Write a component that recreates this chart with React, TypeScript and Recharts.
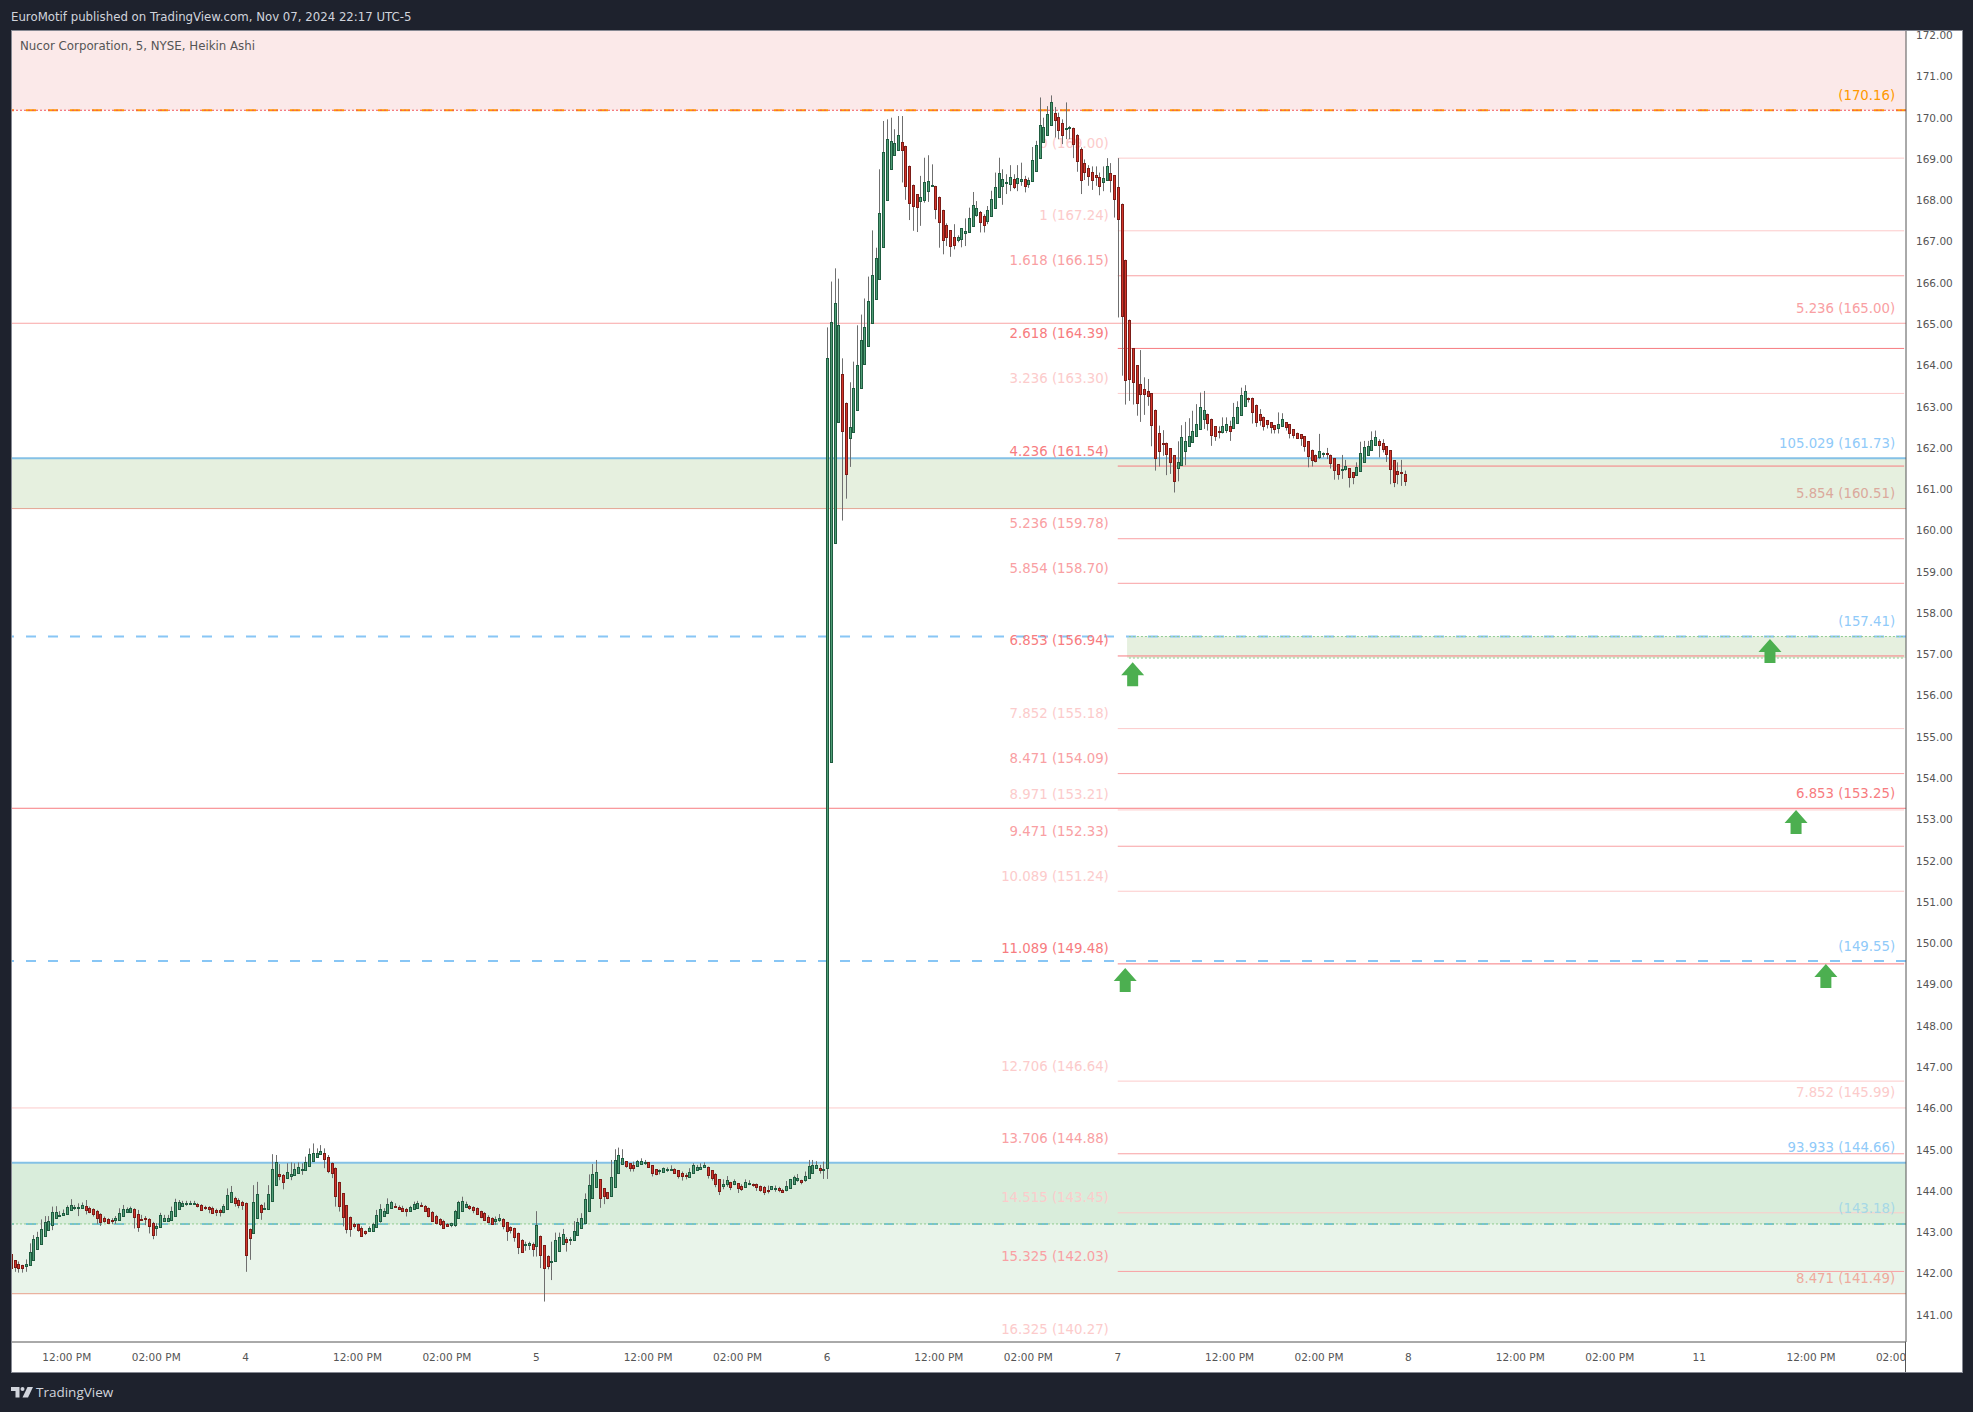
import React from 'react';
import {
  Bar,
  ComposedChart,
  ReferenceArea,
  ReferenceDot,
  ReferenceLine,
  XAxis,
  YAxis,
} from 'recharts';

// Heikin Ashi 5 minute candles
const opens = [
  142.45,142.30,142.21,142.19,142.15,142.17,142.31,142.57,142.69,142.87,143.05,143.14,143.31,143.38,143.39,
  143.41,143.51,143.57,143.57,143.55,143.61,143.56,143.53,143.49,143.41,143.32,143.30,143.28,143.26,143.28,
  143.35,143.46,143.48,143.53,143.43,143.30,143.32,143.29,143.21,143.07,143.10,143.24,143.26,143.28,143.36,
  143.55,143.62,143.66,143.66,143.67,143.67,143.64,143.59,143.58,143.56,143.52,143.51,143.46,143.52,143.70,
  143.82,143.77,143.70,143.68,143.06,142.95,143.33,143.63,143.53,143.53,143.72,144.11,144.39,144.36,144.28,
  144.35,144.36,144.41,144.49,144.50,144.58,144.70,144.81,144.86,144.89,144.81,144.65,144.53,144.19,143.92,
  143.63,143.34,143.19,143.17,143.09,143.00,142.99,143.02,143.11,143.23,143.37,143.44,143.55,143.62,143.59,
  143.57,143.54,143.49,143.53,143.57,143.64,143.62,143.56,143.47,143.37,143.29,143.26,143.18,143.16,143.16,
  143.31,143.50,143.59,143.61,143.59,143.56,143.49,143.45,143.36,143.32,143.26,143.26,143.29,143.22,143.10,
  143.07,142.95,142.79,142.67,142.65,142.70,142.63,142.88,142.66,142.40,142.27,142.27,142.53,142.68,142.81,
  142.79,142.77,142.90,143.07,143.19,143.48,143.80,144.08,144.26,144.04,143.95,143.86,144.08,144.40,144.62,
  144.70,144.65,144.61,144.57,144.62,144.66,144.67,144.60,144.50,144.47,144.45,144.49,144.51,144.50,144.48,
  144.41,144.36,144.33,144.40,144.49,144.52,144.54,144.57,144.48,144.38,144.26,144.11,144.14,144.19,144.13,
  144.16,144.11,144.07,144.14,144.15,144.14,144.11,144.07,144.01,144.01,144.04,144.04,144.01,143.99,144.03,
  144.14,144.24,144.25,144.24,144.28,144.43,144.53,144.54,144.51,144.52,154.35,159.69,162.60,163.76,163.08,
  162.21,162.36,162.89,163.42,164.00,164.46,164.99,165.58,166.07,166.85,167.99,168.75,169.08,169.20,169.40,
  169.30,168.82,168.36,168.12,167.95,167.99,168.20,168.33,168.33,168.07,167.75,167.39,167.25,167.10,167.00,
  167.04,167.17,167.19,167.36,167.60,167.69,167.59,167.48,167.61,167.80,168.05,168.33,168.41,168.39,168.49,
  168.40,168.44,168.49,168.39,168.45,168.69,168.99,169.39,169.56,169.80,170.09,170.00,169.84,169.69,169.72,
  169.72,169.55,169.23,168.88,168.77,168.67,168.58,168.55,168.43,168.47,168.65,168.58,168.29,167.90,166.54,
  165.09,164.39,163.98,163.52,163.40,163.35,163.30,162.91,162.33,162.11,162.11,161.97,161.80,161.49,161.56,
  161.90,162.02,162.14,162.28,162.43,162.69,162.81,162.69,162.50,162.38,162.35,162.43,162.50,162.45,162.57,
  162.77,163.01,163.20,163.20,163.03,162.81,162.74,162.65,162.60,162.53,162.48,162.53,162.60,162.55,162.43,
  162.35,162.31,162.26,162.14,161.94,161.82,161.75,161.84,161.85,161.82,161.73,161.58,161.46,161.46,161.49,
  161.39,161.31,161.41,161.63,161.80,161.92,162.04,162.14,162.09,162.02,161.92,161.68,161.41,161.39,161.36,
];
const highs = [
  142.45,142.30,142.27,142.19,142.32,142.71,142.91,142.99,143.29,143.37,143.37,143.60,143.61,143.49,143.53,
  143.63,143.78,143.64,143.68,143.70,143.76,143.60,143.56,143.52,143.44,143.36,143.32,143.32,143.37,143.56,
  143.64,143.58,143.60,143.56,143.52,143.40,143.37,143.32,143.23,143.20,143.45,143.40,143.40,143.60,143.79,
  143.76,143.74,143.74,143.74,143.74,143.69,143.66,143.62,143.61,143.60,143.55,143.55,143.66,144.04,144.10,
  143.84,143.80,143.74,143.70,143.07,144.12,144.20,143.66,143.70,144.12,144.87,144.85,144.63,144.39,144.65,
  144.67,144.65,144.67,144.65,144.81,145.01,145.13,145.01,145.09,145.01,144.85,144.67,144.55,144.20,143.92,
  143.64,143.36,143.21,143.19,143.12,143.02,143.12,143.21,143.52,143.66,143.56,143.80,143.74,143.68,143.63,
  143.62,143.57,143.62,143.72,143.74,143.70,143.64,143.58,143.49,143.40,143.32,143.28,143.20,143.21,143.52,
  143.74,143.84,143.72,143.64,143.61,143.58,143.50,143.47,143.39,143.34,143.36,143.42,143.32,143.23,143.12,
  143.09,142.97,142.81,142.75,142.75,142.73,143.49,142.90,142.67,142.42,142.75,142.97,142.97,143.06,142.86,
  142.86,143.25,143.32,143.44,143.92,144.38,144.63,144.73,144.26,144.04,143.95,144.73,144.99,145.03,144.99,
  144.70,144.65,144.69,144.73,144.77,144.73,144.67,144.60,144.50,144.50,144.55,144.55,144.60,144.53,144.48,
  144.45,144.41,144.53,144.65,144.61,144.65,144.67,144.57,144.48,144.41,144.26,144.26,144.34,144.20,144.26,
  144.16,144.14,144.26,144.24,144.16,144.16,144.11,144.10,144.11,144.09,144.11,144.08,144.03,144.22,144.27,
  144.35,144.39,144.25,144.45,144.73,144.73,144.70,144.61,144.69,164.90,166.01,166.33,166.08,164.15,163.08,
  163.57,164.07,164.95,165.21,165.60,166.13,167.25,166.83,168.73,169.90,169.94,169.98,169.70,170.02,170.02,
  169.30,168.82,168.36,168.12,168.57,169.01,169.07,168.85,168.33,168.07,167.75,167.42,167.25,167.40,167.13,
  167.30,167.54,167.80,168.18,167.96,167.72,167.64,167.84,168.21,168.65,169.01,168.73,168.61,168.83,168.61,
  168.83,168.89,168.57,168.53,169.27,169.42,170.47,169.98,170.26,170.52,170.24,170.10,169.94,170.35,169.78,
  169.74,169.58,169.26,168.97,168.83,168.80,168.80,168.65,168.80,169.00,168.88,168.58,169.00,167.90,166.54,
  165.09,164.39,163.98,164.35,163.69,163.65,163.30,162.91,162.52,162.41,162.11,161.97,161.80,162.14,162.53,
  162.61,162.70,162.88,163.04,163.32,163.36,162.81,162.69,162.50,162.50,162.72,162.72,162.64,163.07,163.11,
  163.44,163.50,163.20,163.20,163.03,162.92,162.74,162.65,162.60,162.53,162.84,162.82,162.60,162.55,162.43,
  162.35,162.31,162.26,162.14,161.94,161.82,162.32,161.87,161.98,161.82,161.73,161.58,161.81,161.69,161.49,
  161.39,161.63,162.13,162.15,162.15,162.38,162.40,162.19,162.19,162.02,161.92,161.68,161.63,161.69,161.43,
];
const lows = [
  141.90,142.02,142.00,142.00,142.02,142.17,142.31,142.57,142.69,142.87,143.03,143.03,143.31,143.37,143.39,
  143.41,143.51,143.52,143.37,143.55,143.41,143.44,143.36,143.18,143.13,143.21,143.18,143.18,143.18,143.28,
  143.35,143.45,143.47,143.07,142.99,143.28,143.15,142.95,142.81,142.89,143.10,143.23,143.23,143.28,143.36,
  143.55,143.62,143.62,143.64,143.64,143.58,143.50,143.52,143.44,143.42,143.37,143.36,143.44,143.52,143.70,
  143.60,143.56,143.52,142.02,142.31,142.95,143.33,143.28,143.52,143.53,143.72,144.11,144.24,144.02,144.28,
  144.24,144.36,144.41,144.37,144.50,144.58,144.70,144.81,144.86,144.53,144.41,144.29,143.60,143.48,143.12,
  142.95,142.87,143.07,142.99,142.87,142.91,142.99,143.02,143.11,143.21,143.37,143.44,143.55,143.57,143.52,
  143.47,143.36,143.49,143.53,143.57,143.60,143.48,143.34,143.23,143.17,143.13,143.07,143.12,143.10,143.11,
  143.31,143.50,143.58,143.52,143.44,143.40,143.32,143.28,143.20,143.16,143.16,143.23,143.05,142.77,142.95,
  142.75,142.45,142.49,142.53,142.55,142.39,142.39,142.11,141.30,142.08,141.82,142.27,142.53,142.68,142.51,
  142.67,142.77,142.90,143.07,143.19,143.48,143.80,144.08,143.57,143.66,143.78,143.86,144.08,144.40,144.62,
  144.54,144.45,144.45,144.57,144.62,144.61,144.54,144.33,144.36,144.38,144.44,144.44,144.47,144.40,144.28,
  144.23,144.26,144.33,144.40,144.49,144.49,144.54,144.28,144.23,144.07,143.88,144.02,144.08,144.00,144.12,
  143.93,143.98,144.07,144.12,144.08,143.98,143.96,143.88,143.92,144.00,143.96,143.95,143.94,143.97,144.03,
  144.14,144.20,144.14,144.20,144.28,144.43,144.53,144.40,144.27,144.27,154.35,159.69,162.60,160.22,160.75,
  161.52,162.36,162.89,163.42,164.00,164.46,164.99,165.58,166.07,166.85,167.99,168.75,169.08,169.20,168.41,
  167.99,167.50,167.24,167.21,167.36,167.92,167.94,168.32,167.52,166.83,166.67,166.87,166.61,166.79,166.96,
  166.84,166.87,167.19,167.36,167.58,167.20,167.20,167.40,167.61,167.80,168.05,167.87,168.13,168.20,168.25,
  168.20,168.33,168.17,168.28,168.45,168.69,168.99,169.39,169.56,169.80,169.50,169.46,169.34,169.46,169.46,
  169.00,168.67,168.13,168.47,168.33,168.23,168.33,168.10,168.20,168.47,168.17,167.56,165.14,163.73,163.03,
  163.12,163.03,162.76,162.61,162.78,163.00,162.02,161.43,161.53,161.79,161.32,161.35,160.90,161.17,161.56,
  161.56,162.02,162.14,162.28,162.43,162.44,162.40,162.03,162.15,162.21,162.33,162.34,162.15,162.45,162.57,
  162.77,163.01,163.08,162.57,162.49,162.52,162.40,162.45,162.33,162.33,162.33,162.53,162.40,162.21,162.21,
  162.20,162.03,161.89,161.51,161.53,161.63,161.71,161.75,161.71,161.48,161.21,161.21,161.23,161.43,161.02,
  161.10,161.31,161.41,161.63,161.80,161.92,162.04,161.75,161.87,161.64,161.10,161.03,161.10,161.06,161.06,
];
const closes = [
  142.12,142.12,142.12,142.12,142.21,142.49,142.81,142.86,143.06,143.22,143.26,143.46,143.46,143.40,143.44,
  143.58,143.63,143.59,143.59,143.63,143.52,143.46,143.40,143.33,143.21,143.24,143.20,143.27,143.32,143.44,
  143.53,143.53,143.57,143.33,143.12,143.29,143.29,143.11,142.91,143.12,143.39,143.32,143.33,143.49,143.71,
  143.71,143.69,143.68,143.69,143.69,143.61,143.52,143.57,143.52,143.45,143.48,143.46,143.61,143.87,143.95,
  143.71,143.65,143.62,142.41,142.85,143.70,143.90,143.45,143.56,143.90,144.50,144.67,144.35,144.18,144.43,
  144.39,144.50,144.55,144.50,144.69,144.87,144.89,144.91,144.94,144.74,144.47,144.40,143.86,143.62,143.34,
  143.05,143.05,143.14,143.03,142.90,142.95,143.07,143.18,143.40,143.53,143.49,143.67,143.70,143.59,143.53,
  143.49,143.48,143.58,143.66,143.68,143.63,143.49,143.36,143.26,143.21,143.16,143.09,143.13,143.20,143.49,
  143.70,143.74,143.66,143.55,143.52,143.42,143.34,143.29,143.23,143.18,143.31,143.32,143.13,143.01,143.03,
  142.85,142.61,142.51,142.69,142.71,142.58,143.15,142.41,142.10,142.15,142.28,142.78,142.86,142.93,142.73,
  142.81,143.00,143.22,143.32,143.78,144.12,144.38,144.45,143.79,143.84,143.81,144.31,144.74,144.84,144.77,
  144.57,144.52,144.54,144.70,144.70,144.67,144.54,144.40,144.37,144.48,144.54,144.50,144.52,144.41,144.33,
  144.33,144.33,144.45,144.60,144.57,144.57,144.60,144.37,144.28,144.13,143.96,144.15,144.24,144.08,144.21,
  144.03,144.03,144.19,144.17,144.13,144.07,144.01,143.96,144.00,144.09,144.05,143.99,143.96,144.09,144.26,
  144.31,144.29,144.20,144.33,144.58,144.62,144.60,144.49,144.52,164.15,165.02,165.50,164.95,162.38,161.36,
  162.48,163.42,163.98,164.59,164.90,165.55,166.16,166.57,167.66,169.16,169.47,169.42,169.36,169.57,169.20,
  168.33,167.92,167.84,167.80,168.05,168.43,168.45,168.34,167.77,167.46,167.02,167.09,166.87,166.91,167.08,
  167.30,167.23,167.54,167.86,167.78,167.45,167.38,167.74,168.02,168.31,168.63,168.49,168.42,168.55,168.30,
  168.53,168.50,168.33,168.48,168.95,169.31,169.80,169.76,170.06,170.35,169.93,169.68,169.54,169.72,169.75,
  169.34,168.93,168.47,168.67,168.57,168.47,168.52,168.33,168.53,168.82,168.47,167.99,167.51,165.18,163.63,
  163.66,163.56,163.05,163.27,163.29,163.24,162.52,161.74,161.89,162.08,161.85,161.63,161.16,161.63,162.24,
  162.14,162.26,162.40,162.57,162.96,162.91,162.60,162.31,162.26,162.35,162.50,162.57,162.38,162.72,162.96,
  163.26,163.37,163.19,162.86,162.62,162.67,162.53,162.55,162.48,162.43,162.57,162.69,162.48,162.33,162.28,
  162.24,162.21,162.02,161.77,161.70,161.67,161.90,161.85,161.83,161.63,161.44,161.33,161.47,161.53,161.27,
  161.27,161.51,161.85,162.00,162.02,162.16,162.24,162.04,161.94,161.82,161.46,161.15,161.33,161.38,161.20,
];

// Time axis: one slot per 5 minute bar, including the empty future ones
const slotCount = 509;
const lastSlot = slotCount - 1;
const timeTickSlots = [15, 39, 63, 93, 117, 141, 171, 195, 219, 249, 273, 297, 327, 351, 375, 405, 429, 453, 483, 507];
const timeTickLabels = [
  '12:00 PM', '02:00 PM', '4', '12:00 PM', '02:00 PM', '5', '12:00 PM', '02:00 PM', '6', '12:00 PM',
  '02:00 PM', '7', '12:00 PM', '02:00 PM', '8', '12:00 PM', '02:00 PM', '11', '12:00 PM', '02:00 PM',
];
const priceTicks = [
  141, 142, 143, 144, 145, 146, 147, 148, 149, 150, 151, 152, 153, 154, 155, 156,
  157, 158, 159, 160, 161, 162, 163, 164, 165, 166, 167, 168, 169, 170, 171, 172,
];

// Fibonacci extension levels drawn from Nov 7
const fibRatios = [
  '0', '1', '1.618', '2.618', '3.236', '4.236', '5.236', '5.854', '6.853', '7.852',
  '8.471', '8.971', '9.471', '10.089', '11.089', '12.706', '13.706', '14.515', '15.325', '16.325',
];
const fibPrices = [
  169.0, 167.24, 166.15, 164.39, 163.3, 161.54, 159.78, 158.7, 156.94, 155.18,
  154.09, 153.21, 152.33, 151.24, 149.48, 146.64, 144.88, 143.45, 142.03, 140.27,
];

// Labels at the right hand side
const sideLabels = [
  '(170.16)', '5.236 (165.00)', '105.029 (161.73)', '5.854 (160.51)', '(157.41)',
  '6.853 (153.25)', '(149.55)', '7.852 (145.99)', '93.933 (144.66)', '(143.18)', '8.471 (141.49)',
];
const sidePrices = [170.16, 165.0, 161.73, 160.51, 157.41, 153.25, 149.55, 145.99, 144.66, 143.18, 141.49];

const arrowSlots = [301, 299, 472, 479, 487];
const arrowPrices = [156.79, 149.38, 157.35, 153.21, 149.48];

const DOMAIN_TOP = 172.08;
const DOMAIN_BOTTOM = 140.32;
const FONT = '"DejaVu Sans", sans-serif';
const PALE = '#fccbcb';
const MID = '#f9a0a3';
const STRONG = '#f77c80';
const BLUE = '#88c6f5';
const TEAL = '#76c3d4';
const DOTTED_GREEN = '#8fcb8f';
const fibShades = [
  PALE, PALE, MID, STRONG, PALE, STRONG, MID, MID, STRONG, PALE,
  MID, PALE, MID, PALE, STRONG, PALE, MID, PALE, MID, PALE,
];
const sideShades = [
  '#ff9800', '#f9a0a3', '#90caf9', '#dba99c', '#90caf9', STRONG, '#90caf9', PALE, '#90caf9', '#a6d8e6', '#eeaa9c',
];

const chartData = Array.from({ length: slotCount }, (_, i) => ({
  slot: i,
  open: opens[i],
  high: highs[i],
  low: lows[i],
  close: closes[i],
}));

const candleRange = (d: any) => (d.high === undefined ? null : [d.low, d.high]);

// wick and body worked out from the pixel box recharts gives for [low, high]
const Candle = (props: any) => {
  const { x, y, width, height, payload } = props;
  if (!payload || payload.high === undefined) return null;
  const { open, high, low, close } = payload;
  const pxPerUnit = height / (high - low || 1);
  const cx = Math.round(x + width / 2);
  const up = close >= open;
  const top = Math.round(y + (high - Math.max(open, close)) * pxPerUnit) + 0.5;
  const bodyHeight = Math.max(Math.round(Math.abs(open - close) * pxPerUnit), 1);
  return (
    <g>
      <line x1={cx + 0.5} x2={cx + 0.5} y1={y} y2={y + height} stroke="#6f6f6f" strokeWidth={1} />
      <rect
        x={cx - 0.5}
        y={top}
        width={2}
        height={bodyHeight}
        fill={up ? '#4f9d75' : '#d2352b'}
        stroke={up ? '#1f5c40' : '#7b1c17'}
        strokeWidth={1}
      />
    </g>
  );
};

const levelText = (text: string, color: string) => (props: any) => (
  <text
    x={props.cx - 1.5}
    y={props.cy - 10.5}
    textAnchor="end"
    fontFamily={FONT}
    fontSize={13.3}
    fill={color}
  >
    {text}
  </text>
);

const UpArrow = (props: any) => {
  const { cx, cy } = props;
  return (
    <polygon
      points={`${cx},${cy} ${cx + 11.5},${cy + 13} ${cx + 5.5},${cy + 13} ${cx + 5.5},${cy + 24} ${cx - 5.5},${cy + 24} ${cx - 5.5},${cy + 13} ${cx - 11.5},${cy + 13}`}
      fill="#4caf50"
    />
  );
};

const TimeTick = (props: any) => {
  const { x, y, payload } = props;
  const label = timeTickLabels[timeTickSlots.indexOf(payload.value)];
  return (
    <text
      x={x}
      y={y + 17}
      textAnchor="middle"
      fontFamily={FONT}
      fontSize={10.5}
      fill="#555"
      clipPath="url(#timeAxisClip)"
    >
      {label}
    </text>
  );
};

export default function App() {
  return (
    <div
      style={{
        position: 'absolute',
        left: 0,
        top: 0,
        width: 1973,
        height: 1412,
        background: '#1e222d',
        overflow: 'hidden',
        fontFamily: FONT,
      }}
    >
      <div style={{ position: 'absolute', left: 11, top: 10, fontSize: 11.75, color: '#d1d4dc', whiteSpace: 'nowrap' }}>
        EuroMotif published on TradingView.com, Nov 07, 2024 22:17 UTC-5
      </div>
      <div
        style={{
          position: 'absolute',
          left: 11,
          top: 31,
          width: 1951,
          height: 1341,
          background: '#fff',
          boxShadow: '0 0 0 1px #868993',
        }}
      />
      <div style={{ position: 'absolute', left: 9, top: 31 }}>
        <ComposedChart
          width={1953}
          height={1341}
          data={chartData}
          barCategoryGap={0}
          barGap={0}
          margin={{ top: 0, right: 0, bottom: 0, left: 0 }}
        >
          <defs>
            <clipPath id="timeAxisClip">
              <rect x={0} y={1300} width={1896} height={60} />
            </clipPath>
          </defs>
          <XAxis
            dataKey="slot"
            type="category"
            ticks={timeTickSlots}
            interval={0}
            height={30}
            tickLine={false}
            tickSize={0}
            stroke="#555"
            tick={<TimeTick />}
          />
          <YAxis
            orientation="right"
            width={56}
            type="number"
            domain={[DOMAIN_BOTTOM, DOMAIN_TOP]}
            allowDataOverflow
            ticks={priceTicks}
            interval={0}
            tickLine={false}
            tickSize={0}
            tickMargin={10}
            stroke="#555"
            tick={{ fill: '#555', fontSize: 10.5, fontFamily: FONT, dy: 1 }}
            tickFormatter={(v: number) => v.toFixed(2)}
          />

          <ReferenceArea y1={170.16} y2={DOMAIN_TOP} fill="#fbe9e9" fillOpacity={1} stroke="none" zIndex={10} />
          <ReferenceArea y1={160.51} y2={161.73} fill="#e6f0df" fillOpacity={1} stroke="none" zIndex={10} />
          <ReferenceArea y1={143.18} y2={144.66} fill="#d9eddb" fillOpacity={1} stroke="none" zIndex={10} />
          <ReferenceArea y1={141.49} y2={143.18} fill="#e9f4ea" fillOpacity={1} stroke="none" zIndex={10} />
          <ReferenceArea x1={300} x2={lastSlot} y1={156.89} y2={157.41} fill="#e6f0df" fillOpacity={1} stroke="none" zIndex={10} />

          <ReferenceLine y={165} stroke="#f9a5a5" strokeWidth={1} zIndex={20} />
          <ReferenceLine y={160.51} stroke="#e3a493" strokeWidth={1} zIndex={20} />
          <ReferenceLine y={153.25} stroke={STRONG} strokeWidth={1} zIndex={20} />
          <ReferenceLine y={145.99} stroke={PALE} strokeWidth={1} zIndex={20} />
          <ReferenceLine y={141.49} stroke="#e8a08c" strokeWidth={1} zIndex={20} />
          <ReferenceLine y={161.73} stroke="#84c1e6" strokeWidth={2} zIndex={20} />
          <ReferenceLine y={144.66} stroke="#84c1e6" strokeWidth={2} zIndex={20} />
          <ReferenceLine y={149.55} stroke={BLUE} strokeWidth={2} strokeDasharray="10 12" zIndex={20} />
          <ReferenceLine y={143.18} stroke={TEAL} strokeWidth={2} strokeDasharray="10 12" zIndex={20} />
          <ReferenceLine y={143.18} stroke={DOTTED_GREEN} strokeWidth={1} strokeDasharray="2 2" zIndex={20} />
          <ReferenceLine y={157.41} stroke={BLUE} strokeWidth={2} strokeDasharray="10 12" zIndex={20} />
          <ReferenceLine
            segment={[{ x: 300, y: 157.41 }, { x: lastSlot, y: 157.41 }]}
            stroke={DOTTED_GREEN}
            strokeWidth={1}
            strokeDasharray="2 2"
            zIndex={20}
          />
          <ReferenceLine
            segment={[{ x: 300, y: 156.89 }, { x: lastSlot, y: 156.89 }]}
            stroke={DOTTED_GREEN}
            strokeWidth={1}
            strokeDasharray="2 2"
            zIndex={20}
          />

          {fibPrices.slice(0, -1).map((price, i) => (
            <ReferenceLine
              key={`fib-${i}`}
              segment={[{ x: 297, y: price }, { x: lastSlot, y: price }]}
              stroke={fibShades[i]}
              strokeWidth={1}
              zIndex={20}
            />
          ))}

          <ReferenceLine y={170.16} stroke="#ff9800" strokeWidth={2} strokeDasharray="10 12" zIndex={20} />
          <ReferenceLine y={170.16} stroke="#f2545b" strokeWidth={1} strokeDasharray="2 2" zIndex={20} />

          {fibPrices.map((price, i) => (
            <ReferenceDot
              key={`fib-label-${i}`}
              x={295}
              y={price}
              r={0}
              ifOverflow="visible"
              shape={levelText(`${fibRatios[i]} (${price.toFixed(2)})`, fibShades[i])}
              zIndex={30}
            />
          ))}
          {sidePrices.map((price, i) => (
            <ReferenceDot
              key={`side-label-${i}`}
              x={506}
              y={price}
              r={0}
              ifOverflow="visible"
              shape={levelText(sideLabels[i], sideShades[i])}
              zIndex={30}
            />
          ))}

          <Bar dataKey={candleRange} shape={<Candle />} isAnimationActive={false} />

          {arrowPrices.map((price, i) => (
            <ReferenceDot
              key={`arrow-${i}`}
              x={arrowSlots[i]}
              y={price}
              r={0}
              ifOverflow="visible"
              shape={<UpArrow />}
            />
          ))}
        </ComposedChart>
      </div>
      <div style={{ position: 'absolute', left: 0, top: 29, width: 11, height: 1344, background: '#1e222d' }} />
      <div style={{ position: 'absolute', left: 11, top: 30, width: 1, height: 1343, background: '#868993' }} />
      <div style={{ position: 'absolute', left: 20, top: 39, fontSize: 11.8, color: '#555', whiteSpace: 'nowrap' }}>
        Nucor Corporation, 5, NYSE, Heikin Ashi
      </div>
      <div style={{ position: 'absolute', left: 1905, top: 1342, width: 1, height: 30, background: '#555' }} />
      <svg style={{ position: 'absolute', left: 11, top: 1387 }} width={23} height={11}>
        <path d="M0 0h8.5v10.5h-4v-6.5h-4.5z" fill="#d1d4dc" />
        <circle cx={11.5} cy={2} r={2} fill="#d1d4dc" />
        <path d="M16.5 0h5.5l-5 10.5h-5.5z" fill="#d1d4dc" />
      </svg>
      <div style={{ position: 'absolute', left: 36, top: 1383, fontSize: 13.5, color: '#d1d4dc', fontFamily: '"Open Sans", sans-serif', whiteSpace: 'nowrap' }}>
        TradingView
      </div>
    </div>
  );
}
